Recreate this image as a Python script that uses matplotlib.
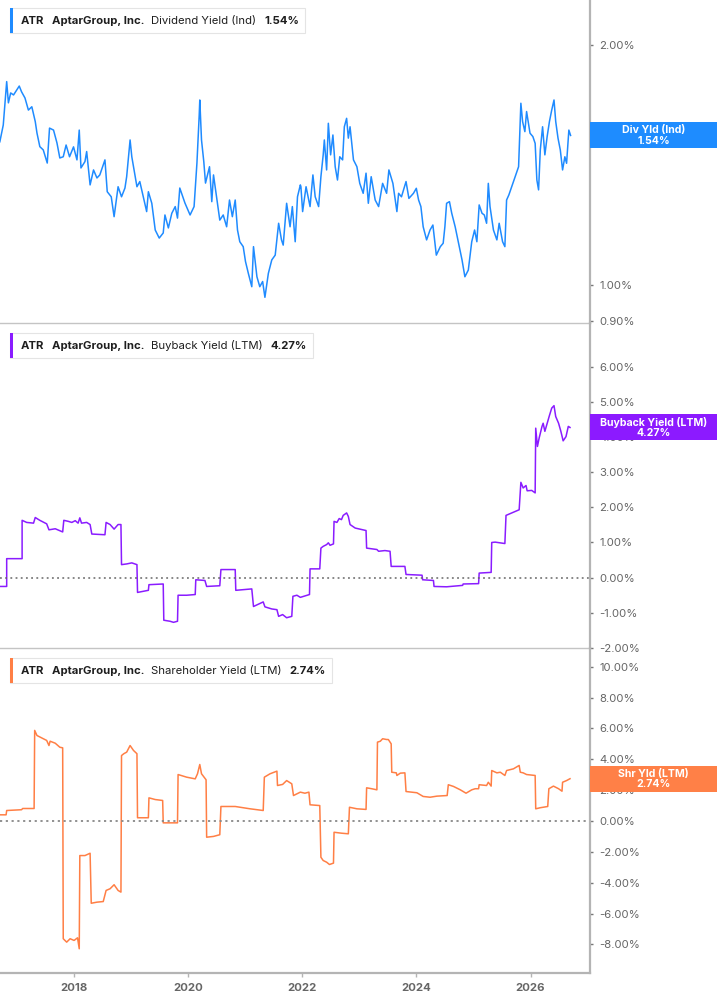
"""ATR (AptarGroup) yield panels: dividend, buyback and shareholder yield."""

import matplotlib
matplotlib.use("Agg")
import matplotlib.pyplot as plt
from matplotlib.patches import Rectangle
from matplotlib.ticker import FixedLocator, FuncFormatter, NullLocator


W, H = 717, 1005

DIV_YEARS = [
    2016.71, 2016.77, 2016.83, 2016.86, 2016.90, 2016.95, 2017.05, 2017.09, 2017.15, 2017.21,
    2017.27, 2017.33, 2017.36, 2017.41, 2017.47, 2017.54, 2017.58, 2017.65, 2017.71, 2017.76,
    2017.82, 2017.87, 2017.93, 2018.00, 2018.06, 2018.10, 2018.13, 2018.20, 2018.23, 2018.29,
    2018.35, 2018.41, 2018.46, 2018.55, 2018.59, 2018.66, 2018.71, 2018.78, 2018.84, 2018.90,
    2018.93, 2018.99, 2019.02, 2019.11, 2019.16, 2019.22, 2019.28, 2019.31, 2019.37, 2019.43,
    2019.50, 2019.57, 2019.60, 2019.66, 2019.72, 2019.78, 2019.82, 2019.86, 2019.95, 2020.04,
    2020.11, 2020.16, 2020.20, 2020.21, 2020.24, 2020.28, 2020.31, 2020.38, 2020.42, 2020.45,
    2020.52, 2020.56, 2020.62, 2020.68, 2020.73, 2020.78, 2020.83, 2020.87, 2020.91, 2020.97,
    2021.01, 2021.06, 2021.12, 2021.15, 2021.21, 2021.26, 2021.31, 2021.35, 2021.41, 2021.47,
    2021.53, 2021.59, 2021.64, 2021.67, 2021.73, 2021.79, 2021.83, 2021.88, 2021.92, 2021.97,
    2021.98, 2022.01, 2022.07, 2022.14, 2022.19, 2022.23, 2022.29, 2022.33, 2022.37, 2022.39,
    2022.43, 2022.46, 2022.50, 2022.54, 2022.58, 2022.62, 2022.66, 2022.71, 2022.74, 2022.78,
    2022.81, 2022.84, 2022.87, 2022.90, 2022.96, 2023.01, 2023.07, 2023.12, 2023.16, 2023.21,
    2023.28, 2023.34, 2023.41, 2023.48, 2023.52, 2023.59, 2023.66, 2023.69, 2023.74, 2023.82,
    2023.87, 2023.95, 2024.00, 2024.04, 2024.08, 2024.12, 2024.18, 2024.24, 2024.29, 2024.35,
    2024.42, 2024.47, 2024.50, 2024.53, 2024.58, 2024.62, 2024.68, 2024.74, 2024.80, 2024.85,
    2024.91, 2024.97, 2025.02, 2025.06, 2025.10, 2025.15, 2025.19, 2025.23, 2025.26, 2025.29,
    2025.35, 2025.41, 2025.45, 2025.51, 2025.55, 2025.58, 2025.62, 2025.67, 2025.73, 2025.79,
    2025.83, 2025.86, 2025.90, 2025.93, 2025.99, 2026.04, 2026.08, 2026.11, 2026.14, 2026.17,
    2026.21, 2026.25, 2026.29, 2026.33, 2026.37, 2026.41, 2026.44, 2026.48, 2026.52, 2026.56,
    2026.60, 2026.63, 2026.67, 2026.70,
]
DIV_VALUES = [
    1.512, 1.587, 1.799, 1.692, 1.741, 1.731, 1.776, 1.747, 1.716, 1.657,
    1.673, 1.603, 1.551, 1.491, 1.477, 1.422, 1.573, 1.564, 1.507, 1.443,
    1.448, 1.498, 1.448, 1.490, 1.435, 1.564, 1.402, 1.428, 1.470, 1.335,
    1.394, 1.362, 1.374, 1.435, 1.309, 1.290, 1.218, 1.328, 1.290, 1.323,
    1.367, 1.520, 1.448, 1.328, 1.348, 1.290, 1.236, 1.309, 1.266, 1.172,
    1.145, 1.162, 1.224, 1.179, 1.230, 1.254, 1.213, 1.323, 1.267, 1.224,
    1.254, 1.422, 1.634, 1.706, 1.520, 1.428, 1.342, 1.407, 1.272, 1.374,
    1.266, 1.206, 1.224, 1.183, 1.278, 1.218, 1.278, 1.172, 1.133, 1.117,
    1.070, 1.034, 0.995, 1.117, 1.024, 0.995, 1.010, 0.965, 1.034, 1.075,
    1.090, 1.195, 1.139, 1.122, 1.266, 1.183, 1.254, 1.133, 1.290, 1.335,
    1.328, 1.236, 1.328, 1.254, 1.374, 1.290, 1.254, 1.367, 1.456, 1.520,
    1.394, 1.595, 1.456, 1.542, 1.407, 1.354, 1.448, 1.435, 1.579, 1.618,
    1.528, 1.579, 1.505, 1.435, 1.407, 1.341, 1.303, 1.381, 1.266, 1.367,
    1.278, 1.254, 1.341, 1.303, 1.394, 1.341, 1.236, 1.303, 1.290, 1.348,
    1.284, 1.303, 1.322, 1.278, 1.254, 1.183, 1.139, 1.172, 1.189, 1.090,
    1.117, 1.128, 1.183, 1.266, 1.272, 1.230, 1.183, 1.128, 1.075, 1.024,
    1.044, 1.133, 1.172, 1.133, 1.260, 1.230, 1.224, 1.195, 1.341, 1.254,
    1.172, 1.139, 1.195, 1.133, 1.117, 1.278, 1.297, 1.328, 1.367, 1.407,
    1.690, 1.603, 1.557, 1.650, 1.550, 1.535, 1.505, 1.354, 1.316, 1.477,
    1.579, 1.456, 1.535, 1.603, 1.657, 1.706, 1.603, 1.528, 1.477, 1.394,
    1.448, 1.421, 1.564, 1.540,
]

BUY_YEARS = [
    2016.71, 2016.83, 2016.83, 2017.10, 2017.10, 2017.18, 2017.30, 2017.33, 2017.41, 2017.53,
    2017.57, 2017.68, 2017.81, 2017.83, 2017.91, 2017.97, 2018.03, 2018.08, 2018.11, 2018.14,
    2018.23, 2018.29, 2018.32, 2018.55, 2018.57, 2018.64, 2018.71, 2018.78, 2018.83, 2018.84,
    2018.93, 2019.02, 2019.11, 2019.12, 2019.22, 2019.31, 2019.32, 2019.57, 2019.58, 2019.69,
    2019.75, 2019.82, 2019.83, 2019.98, 2020.13, 2020.14, 2020.30, 2020.33, 2020.56, 2020.58,
    2020.83, 2020.84, 2021.12, 2021.15, 2021.32, 2021.35, 2021.47, 2021.56, 2021.59, 2021.66,
    2021.73, 2021.82, 2021.84, 2021.91, 2021.97, 2022.13, 2022.14, 2022.31, 2022.33, 2022.37,
    2022.43, 2022.46, 2022.49, 2022.55, 2022.56, 2022.61, 2022.65, 2022.69, 2022.72, 2022.78,
    2022.81, 2022.84, 2022.93, 2023.01, 2023.12, 2023.13, 2023.22, 2023.31, 2023.34, 2023.45,
    2023.54, 2023.56, 2023.80, 2023.82, 2024.10, 2024.11, 2024.30, 2024.31, 2024.53, 2024.81,
    2024.82, 2025.09, 2025.10, 2025.31, 2025.32, 2025.38, 2025.55, 2025.57, 2025.67, 2025.80,
    2025.83, 2025.87, 2025.92, 2025.94, 2026.02, 2026.08, 2026.09, 2026.12, 2026.15, 2026.20,
    2026.22, 2026.25, 2026.29, 2026.33, 2026.37, 2026.41, 2026.44, 2026.49, 2026.53, 2026.57,
    2026.62, 2026.66, 2026.69,
]
BUY_VALUES = [
    -0.25, -0.25, 0.54, 0.54, 1.63, 1.57, 1.55, 1.71, 1.63, 1.53,
    1.36, 1.39, 1.30, 1.63, 1.60, 1.57, 1.62, 1.55, 1.70, 1.55,
    1.57, 1.51, 1.24, 1.22, 1.57, 1.51, 1.38, 1.51, 1.51, 0.37,
    0.39, 0.42, 0.37, -0.42, -0.39, -0.36, -0.20, -0.18, -1.21, -1.24,
    -1.27, -1.24, -0.50, -0.50, -0.48, -0.06, -0.08, -0.25, -0.23, 0.23,
    0.23, -0.36, -0.32, -0.82, -0.69, -0.83, -0.89, -0.91, -1.10, -1.05,
    -1.14, -1.10, -0.53, -0.50, -0.56, -0.48, 0.25, 0.25, 0.84, 0.89,
    0.94, 0.99, 0.92, 0.96, 1.60, 1.57, 1.68, 1.65, 1.77, 1.84,
    1.74, 1.51, 1.41, 1.38, 1.34, 0.84, 0.82, 0.80, 0.75, 0.77,
    0.75, 0.32, 0.32, 0.09, 0.07, -0.06, -0.08, -0.25, -0.26, -0.22,
    -0.18, -0.17, 0.13, 0.15, 1.00, 1.01, 0.97, 1.77, 1.84, 1.93,
    2.71, 2.55, 2.62, 2.47, 2.48, 2.41, 4.25, 3.73, 3.97, 4.30,
    4.39, 4.16, 4.39, 4.61, 4.82, 4.89, 4.58, 4.39, 4.16, 3.89,
    4.01, 4.30, 4.27,
]

SHR_YEARS = [
    2016.71, 2016.82, 2016.83, 2017.09, 2017.11, 2017.31, 2017.32, 2017.36, 2017.44, 2017.53,
    2017.57, 2017.59, 2017.68, 2017.76, 2017.81, 2017.82, 2017.88, 2017.94, 2018.01, 2018.07,
    2018.10, 2018.11, 2018.20, 2018.29, 2018.31, 2018.41, 2018.52, 2018.57, 2018.64, 2018.71,
    2018.78, 2018.83, 2018.84, 2018.88, 2018.93, 2018.99, 2019.05, 2019.11, 2019.12, 2019.31,
    2019.32, 2019.43, 2019.56, 2019.57, 2019.82, 2019.83, 2019.98, 2020.13, 2020.17, 2020.21,
    2020.24, 2020.32, 2020.33, 2020.45, 2020.56, 2020.58, 2020.83, 2021.09, 2021.32, 2021.34,
    2021.44, 2021.56, 2021.57, 2021.66, 2021.73, 2021.82, 2021.85, 2021.91, 2021.97, 2022.05,
    2022.12, 2022.14, 2022.31, 2022.33, 2022.37, 2022.43, 2022.48, 2022.55, 2022.56, 2022.69,
    2022.81, 2022.83, 2022.96, 2023.12, 2023.13, 2023.22, 2023.31, 2023.32, 2023.37, 2023.41,
    2023.48, 2023.51, 2023.56, 2023.57, 2023.65, 2023.66, 2023.72, 2023.80, 2023.82, 2024.01,
    2024.12, 2024.24, 2024.36, 2024.54, 2024.56, 2024.65, 2024.77, 2024.87, 2024.97, 2025.03,
    2025.09, 2025.10, 2025.23, 2025.26, 2025.31, 2025.32, 2025.41, 2025.47, 2025.55, 2025.58,
    2025.70, 2025.80, 2025.82, 2025.87, 2025.93, 2026.08, 2026.09, 2026.17, 2026.30, 2026.32,
    2026.40, 2026.49, 2026.55, 2026.56, 2026.63, 2026.69,
]
SHR_VALUES = [
    0.40, 0.40, 0.68, 0.73, 0.81, 0.81, 5.87, 5.54, 5.39, 5.22,
    4.89, 5.17, 5.04, 4.78, 4.74, -7.63, -7.85, -7.63, -7.74, -7.57,
    -8.28, -2.24, -2.24, -2.09, -5.33, -5.26, -5.22, -4.50, -4.39, -4.13,
    -4.50, -4.61, 4.24, 4.36, 4.46, 4.89, 4.57, 4.36, 0.21, 0.21,
    1.50, 1.39, 1.33, -0.12, -0.12, 3.01, 2.84, 2.73, 3.06, 3.66,
    3.06, 2.67, -1.05, -1.00, -0.89, 0.94, 0.94, 0.79, 0.68, 2.84,
    3.06, 3.23, 2.30, 2.37, 2.62, 2.41, 1.65, 1.76, 1.87, 1.80,
    1.87, 1.05, 1.00, -2.35, -2.56, -2.67, -2.82, -2.73, -0.73, -0.79,
    -0.83, 0.89, 0.79, 0.75, 2.15, 2.09, 2.02, 5.11, 5.17, 5.33,
    5.28, 5.28, 5.00, 3.16, 3.12, 2.95, 3.10, 3.12, 1.91, 1.83,
    1.59, 1.54, 1.61, 1.65, 2.35, 2.24, 2.02, 1.80, 2.02, 2.09,
    2.09, 2.35, 2.30, 2.51, 2.26, 3.27, 3.12, 3.16, 2.95, 3.27,
    3.38, 3.60, 3.16, 3.12, 3.01, 2.95, 0.79, 0.86, 0.94, 2.09,
    2.26, 2.09, 1.93, 2.51, 2.62, 2.74,
]

YEAR_TICKS = [2018, 2020, 2022, 2024, 2026]
DIV_TICKS = [0.9, 1.0, 2.0]
BUY_TICKS = [-2, -1, 0, 1, 2, 3, 4, 5, 6]
SHR_TICKS = [-8, -6, -4, -2, 0, 2, 4, 6, 8, 10]

BLUE = "#1f8bff"
PURPLE = "#8a1cff"
ORANGE = "#ff7f45"
TICK_GREY = "#666666"

plt.rcParams["font.family"] = ["Inter", "DejaVu Sans"]


def fx(x):
    return x / W


def fy(y):
    return 1 - y / H


def pct(v, _pos=None):
    return f"{v:.2f}%"


def style_axes(ax, ticks, ylim, log=False, show_x=False):
    if log:
        ax.set_yscale("log")
    ax.set_xlim(2016.713, 2027.04)
    ax.set_ylim(*ylim)
    ax.yaxis.tick_right()
    ax.yaxis.set_major_locator(FixedLocator(ticks))
    ax.yaxis.set_minor_locator(NullLocator())
    ax.yaxis.set_major_formatter(FuncFormatter(pct))
    ax.tick_params(axis="y", which="major", direction="out", length=2.5, width=1,
                   color="#777777", labelcolor=TICK_GREY, labelsize=8.2, pad=4)
    for side in ("left", "top"):
        ax.spines[side].set_visible(False)
    ax.spines["right"].set_color("#b4b4b4")
    ax.spines["right"].set_linewidth(1.6)
    ax.spines["bottom"].set_color("#c4c4c4")
    ax.spines["bottom"].set_linewidth(1.0)
    ax.set_facecolor("none")
    if show_x:
        ax.spines["bottom"].set_color("#b4b4b4")
        ax.spines["bottom"].set_linewidth(1.6)
        ax.xaxis.set_major_locator(FixedLocator(YEAR_TICKS))
        ax.xaxis.set_minor_locator(NullLocator())
        ax.tick_params(axis="x", direction="out", length=3, width=1, color="#b4b4b4",
                       labelcolor=TICK_GREY, labelsize=8.2, pad=4)
        for lab in ax.get_xticklabels():
            lab.set_fontweight("bold")
    else:
        ax.set_xticks([])


def header(fig, top, color, pieces):
    # pieces are laid out left to right with a fixed gap, then boxed
    renderer = fig.canvas.get_renderer()
    gap = 7.5
    y0, y1 = top, top + 25
    x = 20.7
    for text, bold in pieces:
        t = fig.text(fx(x), fy(top + 12.8), text, ha="left", va="center", fontsize=8.15,
                     color="#1e1e1e", fontweight="bold" if bold else "normal", zorder=7)
        x += t.get_window_extent(renderer).width + gap
    right = x - gap + 6.5
    fig.patches.append(Rectangle((fx(10), fy(y1)), fx(right - 10), (y1 - y0) / H,
                                 transform=fig.transFigure, facecolor="white",
                                 edgecolor="#e4e4e4", linewidth=0.8, zorder=5))
    fig.patches.append(Rectangle((fx(10), fy(y1)), fx(3), (y1 - y0) / H,
                                 transform=fig.transFigure, facecolor=color,
                                 edgecolor="none", zorder=6))


def end_label(fig, ax, value, color, text):
    yp = ax.transData.transform((2020, value))[1]
    yc = fig.transFigure.inverted().transform((0, yp))[1]
    fig.patches.append(Rectangle((fx(590), yc - 13 / H), fx(W - 590), 26 / H,
                                 transform=fig.transFigure, facecolor=color,
                                 edgecolor="none", zorder=5))
    fig.text(fx(653.5), yc, text, ha="center", va="center", fontsize=7.6,
             color="white", fontweight="bold", linespacing=1.05, zorder=6)


fig = plt.figure(figsize=(W / 100, H / 100), dpi=100)
ax1 = fig.add_axes([0, fy(323), fx(590), 323 / H])
ax2 = fig.add_axes([0, fy(648), fx(590), 325 / H])
ax3 = fig.add_axes([0, fy(973), fx(590), 325 / H])

ax1.plot(DIV_YEARS, DIV_VALUES, color=BLUE, lw=1.1)
style_axes(ax1, DIV_TICKS, (0.896, 2.277), log=True)

ax2.plot(BUY_YEARS, BUY_VALUES, color=PURPLE, lw=1.1)
ax2.axhline(0, color="#666666", lw=1.1, ls=(0, (1.2, 2.2)))
style_axes(ax2, BUY_TICKS, (-2.0, 7.24))

ax3.plot(SHR_YEARS, SHR_VALUES, color=ORANGE, lw=1.1)
ax3.axhline(0, color="#888888", lw=1.3, ls=(0, (1.2, 2.0)))
style_axes(ax3, SHR_TICKS, (-9.85, 11.21), show_x=True)

header(fig, 8, BLUE, [("ATR", True), ("AptarGroup, Inc.", True),
                      ("Dividend Yield (Ind)", False), (f"{DIV_VALUES[-1]:.2f}%", True)])
header(fig, 333, PURPLE, [("ATR", True), ("AptarGroup, Inc.", True),
                          ("Buyback Yield (LTM)", False), (f"{BUY_VALUES[-1]:.2f}%", True)])
header(fig, 658, ORANGE, [("ATR", True), ("AptarGroup, Inc.", True),
                          ("Shareholder Yield (LTM)", False), (f"{SHR_VALUES[-1]:.2f}%", True)])

end_label(fig, ax1, DIV_VALUES[-1], "#1e8cff", f"Div Yld (Ind)\n{DIV_VALUES[-1]:.2f}%")
end_label(fig, ax2, BUY_VALUES[-1], "#8c1aff", f"Buyback Yield (LTM)\n{BUY_VALUES[-1]:.2f}%")
end_label(fig, ax3, SHR_VALUES[-1], "#ff8047", f"Shr Yld (LTM)\n{SHR_VALUES[-1]:.2f}%")

fig.savefig("out.png", dpi=100)
